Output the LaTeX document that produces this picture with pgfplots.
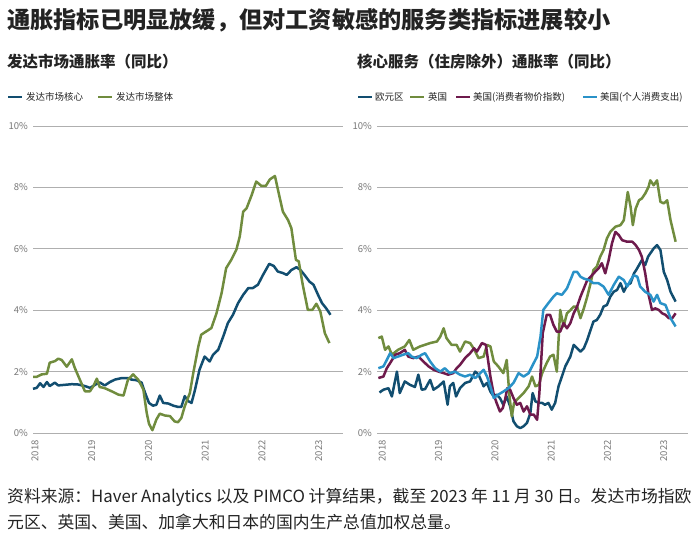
\documentclass[border=0pt]{standalone}
\usepackage{fontspec}
\setmainfont{Noto Sans CJK SC}
\usepackage{pgfplots}
\pgfplotsset{compat=1.18}
\definecolor{coreblue}{RGB}{18,78,112}
\definecolor{olive}{RGB}{112,140,62}
\definecolor{plum}{RGB}{110,26,76}
\definecolor{skyblue}{RGB}{42,146,200}
\definecolor{gridgray}{RGB}{175,175,175}
\definecolor{tickgray}{RGB}{120,120,120}
\definecolor{txt}{RGB}{35,35,35}
\pgfplotsset{
  panel/.style={
    scale only axis, height=307pt,
    ymin=0, ymax=10, xmax=2023.43,
    axis line style={draw=none},
    major tick length=0pt,
    ytick={0,2,4,6,8,10},
    yticklabels={0\%,2\%,4\%,6\%,8\%,10\%},
    xtick={2018,2019,2020,2021,2022,2023},
    xticklabels={2018,2019,2020,2021,2022,2023},
    ymajorgrids,
    grid style={color=gridgray, line width=0.9pt},
    yticklabel style={font=\fontsize{9.5}{10}\selectfont, text=tickgray, inner sep=0pt},
    yticklabel shift=5pt,
    xticklabel style={font=\fontsize{9.5}{10}\selectfont, text=tickgray, rotate=90, anchor=east, inner sep=0pt},
    xticklabel shift=7pt,
    every axis plot/.append style={line width=2.5pt, line join=round, no marks},
    clip=false,
  }
}
\begin{document}
\begin{tikzpicture}
\path[use as bounding box] (0pt,0pt) rectangle (700pt,541pt);
% title
\node[anchor=west, inner sep=0pt, text=txt, font=\fontsize{23.2}{25}\selectfont\bfseries] at (7pt,521pt) {通胀指标已明显放缓，但对工资敏感的服务类指标进展较小};
% subtitles
\node[anchor=west, inner sep=0pt, text=txt, font=\fontsize{15.5}{17}\selectfont\bfseries] at (7pt,479pt) {发达市场通胀率（同比）};
\node[anchor=west, inner sep=0pt, text=txt, font=\fontsize{15.5}{17}\selectfont\bfseries] at (357pt,479pt) {核心服务（住房除外）通胀率（同比）};
% legends
\begin{scope}[font=\fontsize{9.5}{10}\selectfont, every node/.style={anchor=west, inner sep=0pt, text=txt}]
\draw[coreblue, line width=2.5pt] (8pt,444pt) -- (22pt,444pt);
\node at (26pt,444pt) {发达市场核心};
\draw[olive, line width=2.5pt] (98pt,444pt) -- (112pt,444pt);
\node at (116pt,444pt) {发达市场整体};
\draw[coreblue, line width=2.5pt] (358pt,444pt) -- (372pt,444pt);
\node at (375pt,444pt) {欧元区};
\draw[olive, line width=2.5pt] (410pt,444pt) -- (424pt,444pt);
\node at (428pt,444pt) {英国};
\draw[plum, line width=2.5pt] (456pt,444pt) -- (470pt,444pt);
\node at (473pt,444pt) {美国(消费者物价指数)};
\draw[skyblue, line width=2.5pt] (583pt,444pt) -- (597pt,444pt);
\node at (600pt,444pt) {美国(个人消费支出)};
\end{scope}
% footnote
\node[anchor=west, inner sep=0pt, text=txt, font=\fontsize{16.8}{19}\selectfont] at (7pt,44pt) {资料来源：Haver Analytics 以及 PIMCO 计算结果，截至 2023 年 11 月 30 日。发达市场指欧};
\node[anchor=west, inner sep=0pt, text=txt, font=\fontsize{16.8}{19}\selectfont] at (7pt,19pt) {元区、英国、美国、加拿大和日本的国内生产总值加权总量。};

% left panel
\begin{axis}[panel, at={(33pt,108pt)}, anchor=south west, width=310pt, xmin=2017.965]
\addplot[coreblue] coordinates {
(2017.965,1.44)(2018.03,1.47)(2018.09,1.62)(2018.15,1.50)(2018.21,1.66)(2018.26,1.53)(2018.35,1.64)(2018.41,1.55)(2018.53,1.57)(2018.65,1.59)(2018.76,1.58)(2018.88,1.53)(2018.97,1.47)(2019.06,1.57)(2019.14,1.65)(2019.23,1.55)(2019.32,1.66)(2019.41,1.74)(2019.53,1.79)(2019.64,1.79)(2019.70,1.74)(2019.79,1.72)(2019.88,1.64)(2019.94,1.31)(2020.01,0.98)(2020.08,0.89)(2020.14,0.92)(2020.20,1.22)(2020.26,0.98)(2020.35,0.96)(2020.44,0.89)(2020.52,0.85)(2020.58,0.85)(2020.64,1.20)(2020.70,1.04)(2020.76,0.98)(2020.82,1.40)(2020.90,2.06)(2020.99,2.49)(2021.08,2.33)(2021.14,2.55)(2021.23,2.71)(2021.32,3.15)(2021.40,3.58)(2021.49,3.85)(2021.58,4.23)(2021.67,4.50)(2021.76,4.72)(2021.84,4.72)(2021.93,4.83)(2022.02,5.15)(2022.13,5.51)(2022.21,5.44)(2022.28,5.26)(2022.37,5.21)(2022.44,5.15)(2022.52,5.31)(2022.61,5.40)(2022.68,5.31)(2022.75,5.15)(2022.84,4.93)(2022.91,4.83)(2022.99,4.50)(2023.06,4.23)(2023.13,4.07)(2023.21,3.85)
};
\addplot[olive] coordinates {
(2017.965,1.83)(2018.03,1.83)(2018.12,1.91)(2018.21,1.93)(2018.26,2.29)(2018.35,2.34)(2018.41,2.42)(2018.47,2.38)(2018.56,2.16)(2018.65,2.40)(2018.70,2.13)(2018.79,1.74)(2018.88,1.36)(2018.97,1.36)(2019.03,1.53)(2019.09,1.77)(2019.14,1.50)(2019.23,1.46)(2019.35,1.36)(2019.47,1.25)(2019.56,1.22)(2019.64,1.74)(2019.73,1.91)(2019.82,1.74)(2019.91,1.42)(2019.97,0.65)(2020.01,0.30)(2020.07,0.09)(2020.14,0.44)(2020.20,0.63)(2020.29,0.57)(2020.38,0.55)(2020.46,0.38)(2020.52,0.35)(2020.58,0.49)(2020.64,0.87)(2020.73,1.30)(2020.79,1.95)(2020.88,2.82)(2020.93,3.20)(2021.02,3.31)(2021.11,3.42)(2021.20,3.90)(2021.29,4.56)(2021.37,5.37)(2021.46,5.64)(2021.55,5.97)(2021.61,6.40)(2021.67,7.21)(2021.73,7.32)(2021.82,7.75)(2021.90,8.19)(2021.99,8.05)(2022.07,8.05)(2022.14,8.26)(2022.23,8.37)(2022.31,7.70)(2022.37,7.21)(2022.46,6.94)(2022.52,6.67)(2022.60,5.64)(2022.65,5.59)(2022.72,4.83)(2022.81,4.01)(2022.89,4.01)(2022.96,4.21)(2023.03,3.96)(2023.11,3.25)(2023.19,2.93)
};
\end{axis}

% right panel
\begin{axis}[panel, at={(377pt,108pt)}, anchor=south west, width=311pt, xmin=2017.906]
\addplot[coreblue] coordinates {
(2017.95,1.32)(2018.02,1.41)(2018.11,1.46)(2018.17,1.19)(2018.26,2.00)(2018.31,1.30)(2018.40,1.68)(2018.49,1.57)(2018.58,1.50)(2018.64,1.90)(2018.70,1.41)(2018.76,1.43)(2018.85,1.73)(2018.91,1.41)(2019.00,1.52)(2019.09,1.68)(2019.16,0.92)(2019.20,1.52)(2019.26,1.63)(2019.31,1.19)(2019.38,1.46)(2019.47,1.63)(2019.56,1.68)(2019.65,2.00)(2019.71,1.90)(2019.80,1.52)(2019.86,1.63)(2019.92,1.35)(2019.98,1.19)(2020.03,1.25)(2020.09,1.14)(2020.15,0.92)(2020.21,1.19)(2020.27,0.87)(2020.33,0.38)(2020.39,0.22)(2020.45,0.16)(2020.51,0.22)(2020.57,0.33)(2020.63,0.65)(2020.67,1.30)(2020.72,1.03)(2020.78,0.98)(2020.84,0.98)(2020.89,0.92)(2020.95,0.98)(2021.01,0.76)(2021.07,0.98)(2021.13,1.52)(2021.19,1.84)(2021.25,2.17)(2021.34,2.49)(2021.40,2.87)(2021.46,2.76)(2021.52,2.65)(2021.58,2.76)(2021.64,3.03)(2021.70,3.36)(2021.75,3.63)(2021.81,3.68)(2021.87,3.85)(2021.93,4.12)(2021.99,4.17)(2022.05,4.44)(2022.11,4.60)(2022.17,4.66)(2022.23,4.88)(2022.29,4.60)(2022.35,4.82)(2022.41,4.88)(2022.47,5.20)(2022.51,5.31)(2022.56,5.47)(2022.61,5.63)(2022.67,5.47)(2022.72,5.74)(2022.76,5.85)(2022.82,6.01)(2022.88,6.12)(2022.94,5.96)(2023.00,5.25)(2023.06,4.98)(2023.12,4.60)(2023.21,4.28)
};
\addplot[olive] coordinates {
(2017.93,3.09)(2017.99,3.14)(2018.05,2.71)(2018.11,2.82)(2018.17,2.55)(2018.28,2.71)(2018.40,2.82)(2018.48,3.03)(2018.55,2.71)(2018.67,2.82)(2018.85,2.93)(2018.97,2.98)(2019.03,3.14)(2019.09,3.41)(2019.14,3.09)(2019.23,2.87)(2019.32,2.87)(2019.38,2.65)(2019.47,2.98)(2019.56,2.93)(2019.62,2.76)(2019.71,2.44)(2019.80,2.49)(2019.86,2.87)(2019.92,2.82)(2019.98,2.33)(2020.06,2.17)(2020.15,1.95)(2020.21,2.38)(2020.26,1.19)(2020.30,0.54)(2020.34,0.98)(2020.42,1.14)(2020.51,1.30)(2020.60,1.52)(2020.66,1.84)(2020.72,1.52)(2020.78,1.57)(2020.84,1.95)(2020.92,2.28)(2020.98,2.49)(2021.04,2.55)(2021.10,2.00)(2021.16,4.01)(2021.22,3.47)(2021.28,3.90)(2021.34,4.00)(2021.40,4.12)(2021.46,4.12)(2021.52,3.74)(2021.58,4.06)(2021.64,4.44)(2021.70,4.88)(2021.75,5.31)(2021.81,5.42)(2021.87,5.74)(2021.93,5.96)(2021.99,6.34)(2022.05,6.55)(2022.14,6.72)(2022.23,6.77)(2022.29,6.93)(2022.36,7.85)(2022.41,7.37)(2022.45,6.77)(2022.50,7.31)(2022.56,7.58)(2022.61,7.64)(2022.67,7.80)(2022.73,8.02)(2022.76,8.23)(2022.82,8.07)(2022.88,8.23)(2022.94,7.53)(2023.00,7.48)(2023.06,7.58)(2023.12,6.93)(2023.21,6.23)
};
\addplot[plum] coordinates {
(2017.93,1.79)(2018.02,1.84)(2018.08,2.11)(2018.14,2.28)(2018.23,2.55)(2018.31,2.60)(2018.40,2.71)(2018.46,2.49)(2018.55,2.44)(2018.64,2.49)(2018.73,2.33)(2018.82,2.17)(2018.91,2.06)(2019.00,2.00)(2019.09,1.95)(2019.17,1.90)(2019.26,1.95)(2019.32,2.11)(2019.38,2.22)(2019.47,2.44)(2019.56,2.60)(2019.63,2.76)(2019.68,2.65)(2019.77,2.93)(2019.84,2.87)(2019.92,1.84)(2019.98,1.25)(2020.03,0.98)(2020.09,0.70)(2020.14,0.81)(2020.18,1.08)(2020.22,1.46)(2020.27,1.41)(2020.33,1.14)(2020.39,0.92)(2020.45,0.98)(2020.51,0.70)(2020.57,0.87)(2020.63,0.60)(2020.69,0.60)(2020.75,0.43)(2020.79,1.30)(2020.85,3.25)(2020.92,3.85)(2020.98,3.85)(2021.04,3.52)(2021.10,3.30)(2021.16,3.30)(2021.22,3.58)(2021.28,3.41)(2021.34,3.58)(2021.40,3.90)(2021.46,4.12)(2021.52,4.44)(2021.58,4.71)(2021.64,4.98)(2021.70,5.09)(2021.78,5.25)(2021.84,5.36)(2021.90,5.53)(2021.96,5.20)(2022.02,5.63)(2022.08,6.18)(2022.14,6.55)(2022.20,6.45)(2022.26,6.28)(2022.35,6.23)(2022.44,6.23)(2022.50,6.12)(2022.56,5.96)(2022.61,5.74)(2022.67,5.20)(2022.73,4.50)(2022.79,4.01)(2022.85,4.06)(2022.91,4.01)(2022.97,3.90)(2023.03,3.85)(2023.09,3.74)(2023.15,3.74)(2023.21,3.90)
};
\addplot[skyblue] coordinates {
(2017.93,2.11)(2018.02,2.17)(2018.08,2.38)(2018.14,2.60)(2018.20,2.44)(2018.28,2.49)(2018.37,2.55)(2018.46,2.60)(2018.52,2.49)(2018.61,2.44)(2018.70,2.55)(2018.76,2.60)(2018.85,2.33)(2018.94,2.11)(2019.03,2.00)(2019.11,2.11)(2019.20,1.95)(2019.29,2.00)(2019.38,1.90)(2019.47,1.84)(2019.56,1.90)(2019.65,1.79)(2019.74,1.95)(2019.80,2.06)(2019.86,1.84)(2019.92,1.52)(2019.98,1.14)(2020.06,1.25)(2020.15,1.35)(2020.24,1.46)(2020.33,1.63)(2020.42,1.95)(2020.51,1.84)(2020.60,1.95)(2020.69,2.28)(2020.75,2.49)(2020.81,3.14)(2020.86,4.01)(2020.95,4.23)(2021.04,4.44)(2021.10,4.55)(2021.19,4.50)(2021.28,4.71)(2021.34,4.98)(2021.40,5.25)(2021.46,5.25)(2021.52,5.09)(2021.58,5.03)(2021.67,4.98)(2021.75,4.88)(2021.84,4.88)(2021.93,4.77)(2022.02,4.50)(2022.11,4.82)(2022.20,5.09)(2022.29,4.98)(2022.35,4.77)(2022.41,4.98)(2022.47,5.14)(2022.53,5.09)(2022.58,4.77)(2022.67,4.60)(2022.76,4.50)(2022.82,4.28)(2022.88,4.50)(2022.94,4.23)(2023.03,4.17)(2023.12,3.74)(2023.21,3.47)
};
\end{axis}
\end{tikzpicture}
\end{document}
